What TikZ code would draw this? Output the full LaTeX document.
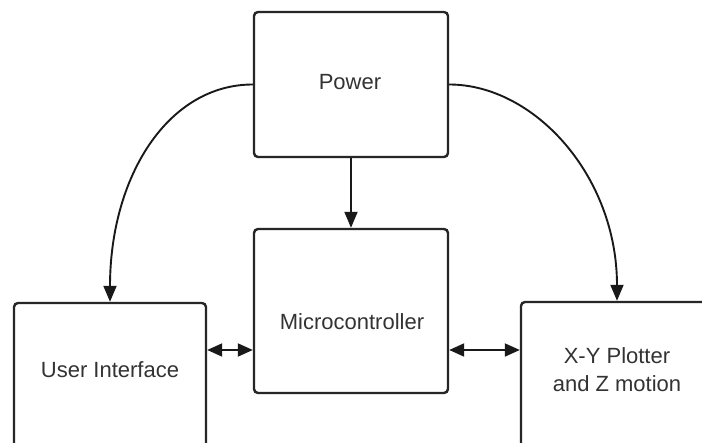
\documentclass[tikz,border=0pt]{standalone}
\usepackage{fontspec}
\setmainfont{Liberation Sans}
\usetikzlibrary{arrows.meta}
\begin{document}
\begin{tikzpicture}[x=1pt,y=1pt,
  blk/.style={draw=black!85, line width=2.4pt, rounded corners=4pt, fill=white, inner sep=0pt},
  lbl/.style={font=\fontsize{22}{28}\selectfont, text=black!80, align=center},
  arr/.style={draw=black!90, line width=1.9pt, -{Triangle[length=16pt,width=13pt]}},
  darr/.style={draw=black!90, line width=1.9pt, {Triangle[length=15pt,width=13pt]}-{Triangle[length=15pt,width=13pt]}}]
\clip (0,0) rectangle (702,-443);
\fill[white] (0,0) rectangle (702,-443);
% boxes
\node[blk, minimum width=194pt, minimum height=145pt] (power) at (351,-84.5) {};
\node[blk, minimum width=194pt, minimum height=164pt] (mc) at (351,-311) {};
\node[blk, minimum width=192pt, minimum height=160pt] (ui) at (110,-383) {};
\node[blk, minimum width=192pt, minimum height=160pt] (xy) at (617,-382) {};
% labels
\node[lbl] (tpower) at (350,-82) {Power};
\node[lbl] (tmc) at (352,-322) {Microcontroller};
\node[lbl] (tui) at (110,-370) {User Interface};
\node[lbl] (txy) at (617,-370) {X-Y Plotter\\and Z motion};
% connectors
\draw[arr] (power.south) -- (mc.north);
\draw[arr] (power.west) .. controls +(-85,0) and +(0,125) .. (ui.north);
\draw[arr] (power.east) .. controls +(85,0) and +(0,125) .. (xy.north);
\coordinate (uim) at (ui.east |- 0,-350);
\coordinate (mcl) at (mc.west |- 0,-350);
\coordinate (mcr) at (mc.east |- 0,-350);
\coordinate (xyl) at (xy.west |- 0,-350);
\draw[darr] (uim) -- (mcl);
\draw[darr] (mcr) -- (xyl);
\end{tikzpicture}
\end{document}
